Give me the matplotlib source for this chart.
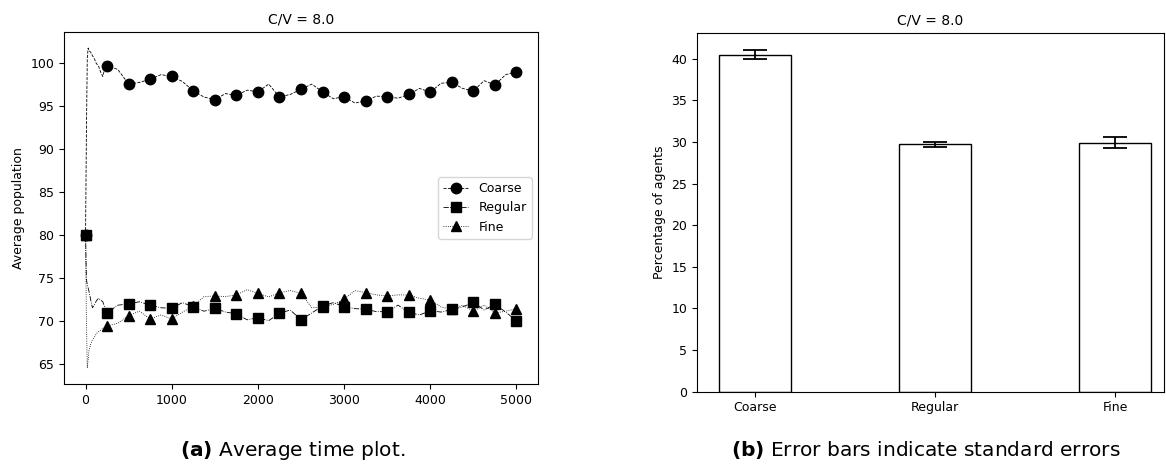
import numpy as np
import matplotlib.pyplot as plt

t = [0, 10, 20, 30, 40, 60, 80, 100, 125, 150, 175, 200, 225, 250] + list(range(375, 5001, 125))

coarse = [80, 92, 100.5, 101.7, 101.4, 101.2, 100.8, 100.5, 99.9, 99.6, 98.9, 98.4, 99.4, 99.65,
          99.2, 97.5, 97.7, 98.07, 98.6, 98.4, 97.8, 96.7, 96.0, 95.7, 96.4, 96.2, 96.8, 96.6,
          97.5, 96.0, 96.3, 96.9, 97.5, 96.6, 95.8, 96.05, 95.3, 95.55, 96.1, 96.05, 95.86,
          96.3, 97.0, 96.56, 97.6, 97.7, 97.0, 96.7, 97.9, 97.4, 98.6, 98.9]
regular = [80, 74.8, 74.2, 73.8, 73.4, 72.4, 71.5, 71.8, 72.3, 72.6, 72.4, 72.2, 71.5, 70.93,
           71.8, 71.95, 72.2, 71.8, 71.5, 71.44, 72.1, 71.6, 71.1, 71.44, 71.0, 70.8, 70.1, 70.35,
           70.0, 70.86, 71.24, 70.1, 70.9, 71.7, 72.1, 71.63, 71.4, 71.33, 71.05, 71.05, 71.8,
           70.98, 70.66, 71.16, 71.0, 71.3, 71.6, 72.14, 71.24, 71.9, 71.0, 70.0]
fine = [80, 70, 64.5, 65.5, 66.5, 67.3, 67.8, 68.0, 68.5, 68.7, 68.9, 69.1, 69.2, 69.38,
        69.7, 70.6, 71.1, 70.2, 70.66, 70.2, 71.0, 71.7, 72.8, 72.87, 72.8, 73.0, 73.6, 73.19,
        72.75, 73.26, 73.5, 73.19, 71.5, 71.6, 71.9, 72.5, 73.5, 73.26, 73.0, 72.87, 73.0,
        72.99, 72.6, 72.4, 71.6, 71.3, 71.8, 71.1, 71.8, 70.9, 71.1, 71.4]

categories = ['Coarse', 'Regular', 'Fine']
percent = [40.47, 29.72, 29.9]
std_err = [0.55, 0.28, 0.65]

t = np.array(t)
marks = list(np.where(t % 250 == 0)[0])

fig = plt.figure(figsize=(11.66, 4.76), dpi=100)
ax1 = fig.add_axes([0.0549, 0.1933, 0.4065, 0.7395])
ax2 = fig.add_axes([0.5978, 0.177, 0.4005, 0.7535])

# (a) time plot
ax1.plot(t, coarse, '--', color='black', lw=0.6, marker='o', ms=7.5, markevery=marks, label='Coarse')
ax1.plot(t, regular, '-.', color='black', lw=0.6, marker='s', ms=7.5, markevery=marks, label='Regular')
ax1.plot(t, fine, ':', color='black', lw=0.6, marker='^', ms=7.5, markevery=marks, label='Fine')
ax1.set_title('C/V = 8.0', fontsize=10)
ax1.set_ylabel('Average population', fontsize=9)
ax1.tick_params(labelsize=9)
ax1.legend(loc='center right', fontsize=9)

# (b) bar chart with standard errors
x = np.arange(len(categories))
ax2.bar(x, percent, width=0.4, yerr=std_err, capsize=8.5, color='white', edgecolor='black',
        error_kw={'elinewidth': 1.3, 'capthick': 1.3})
ax2.set_xticks(x)
ax2.set_xticklabels(categories)
ax2.set_xlim(-0.32, 2.27)
ax2.set_title('C/V = 8.0', fontsize=10)
ax2.set_ylabel('Percentage of agents', fontsize=9)
ax2.tick_params(labelsize=9)

# captions
fig.text(0.251, 0.042, r'$\mathbf{(a)}$ Average time plot.', ha='center', fontsize=14.5)
fig.text(0.794, 0.042, r'$\mathbf{(b)}$ Error bars indicate standard errors', ha='center', fontsize=14.5)

fig.savefig('out.png', dpi=100)
